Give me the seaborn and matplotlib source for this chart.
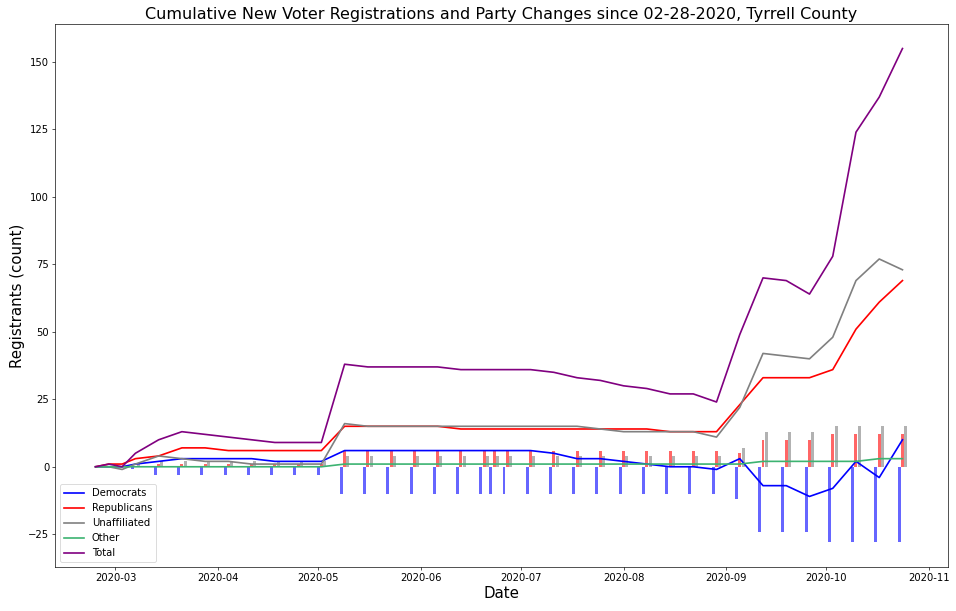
import matplotlib
matplotlib.use("Agg")
import matplotlib.pyplot as plt
import matplotlib.dates as mdates
import seaborn as sns
import pandas as pd


# ---------------- DATA ----------------
line_dates = [
    "2020-02-24", "2020-02-28", "2020-03-03",
    "2020-03-07", "2020-03-14", "2020-03-21", "2020-03-28", "2020-04-04",
    "2020-04-11", "2020-04-18", "2020-04-25", "2020-05-02",
    "2020-05-09", "2020-05-16", "2020-05-23", "2020-05-30", "2020-06-06",
    "2020-06-13", "2020-06-20", "2020-06-23",
    "2020-06-27", "2020-07-04", "2020-07-11", "2020-07-18", "2020-07-25",
    "2020-08-01", "2020-08-08", "2020-08-15", "2020-08-22", "2020-08-29",
    "2020-09-05", "2020-09-12", "2020-09-19", "2020-09-26", "2020-10-03",
    "2020-10-10", "2020-10-17", "2020-10-24",
]

democrats = [0, 0, 0,
             1, 2, 3, 3, 3, 3, 2, 2, 2,
             6, 6, 6, 6, 6, 6, 6, 6,
             6, 6, 5, 3, 3, 2, 1, 0, 0, -1,
             3, -7, -7, -11, -8, 2, -4, 10]
republicans = [0, 1, 1,
               3, 4, 7, 7, 6, 6, 6, 6, 6,
               15, 15, 15, 15, 15, 14, 14, 14,
               14, 14, 14, 14, 14, 14, 14, 13, 13, 13,
               23, 33, 33, 33, 36, 51, 61, 69]
unaffiliated = [0, 0, -1,
                1, 4, 3, 2, 2, 1, 1, 1, 1,
                16, 15, 15, 15, 15, 15, 15, 15,
                15, 15, 15, 15, 14, 13, 13, 13, 13, 11,
                22, 42, 41, 40, 48, 69, 77, 73]
other = [0, 0, 0,
         0, 0, 0, 0, 0, 0, 0, 0, 0,
         1, 1, 1, 1, 1, 1, 1, 1,
         1, 1, 1, 1, 1, 1, 1, 1, 1, 1,
         1, 2, 2, 2, 2, 2, 3, 3]
total = [0, 1, 0,
         5, 10, 13, 12, 11, 10, 9, 9, 9,
         38, 37, 37, 37, 37, 36, 36, 36,
         36, 36, 35, 33, 32, 30, 29, 27, 27, 24,
         49, 70, 69, 64, 78, 124, 137, 155]

# party changes (bars) from 2020-03-07 onwards
bar_dates = line_dates[3:]
change_dem = [-1, -3, -3, -3, -3, -3, -3, -3, -3,
              -10, -10, -10, -10, -10, -10, -10, -10, -10,
              -10, -10, -10, -10, -10, -10, -10, -10, -10,
              -12, -24, -24, -24, -28, -28, -28, -28]
change_rep = [0, 1, 1, 1, 1, 1, 1, 1, 1,
              6, 6, 6, 6, 6, 6, 6, 6, 6,
              6, 6, 6, 6, 6, 6, 6, 6, 6,
              5, 10, 10, 10, 12, 12, 12, 12]
change_una = [1, 2, 2, 2, 2, 2, 2, 2, 2,
              4, 4, 4, 4, 4, 4, 4, 4, 4,
              4, 4, 4, 4, 4, 4, 4, 4, 4,
              7, 13, 13, 13, 15, 15, 15, 15]

parties = ["Democrats", "Republicans", "Unaffiliated", "Other", "Total"]
colors = ["blue", "red", "gray", "mediumseagreen", "purple"]

# long-form table for seaborn
series = [democrats, republicans, unaffiliated, other, total]
df = pd.concat([
    pd.DataFrame({"Date": pd.to_datetime(line_dates), "count": vals, "party": name})
    for name, vals in zip(parties, series)
])


# ---------------- PLOT ----------------
fig = plt.figure(figsize=(956 / 60, 611 / 60), dpi=60)
ax = fig.add_axes([0.0575, 0.072, 0.934, 0.889])

bd = pd.to_datetime(bar_dates)
day = pd.Timedelta(days=1)
ax.bar(bd - day, change_dem, width=0.9, color="blue", alpha=0.6)
ax.bar(bd, change_rep, width=0.9, color="red", alpha=0.6)
ax.bar(bd + day, change_una, width=0.9, color="gray", alpha=0.6)

sns.lineplot(data=df, x="Date", y="count", hue="party", hue_order=parties,
             palette=dict(zip(parties, colors)), ax=ax, linewidth=2)

ax.xaxis.set_major_locator(mdates.MonthLocator())
ax.xaxis.set_major_formatter(mdates.DateFormatter("%Y-%m"))
ax.tick_params(labelsize=12)

ax.set_title("Cumulative New Voter Registrations and Party Changes since 02-28-2020, Tyrrell County",
             fontsize=19.2)
ax.set_xlabel("Date", fontsize=18)
ax.set_ylabel("Registrants (count)", fontsize=18)
ax.legend(loc="lower left", fontsize=12)

fig.savefig("out.png", dpi=60)
